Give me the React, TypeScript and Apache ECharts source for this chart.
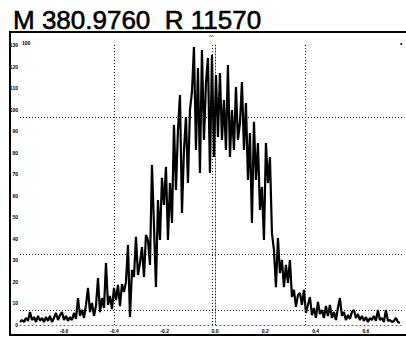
import React, { useEffect, useRef } from "react";
import * as echarts from "echarts";

const TITLE = "M 380.9760  R 11570";

// m/z offset of first sample and sampling step
const MZ_START = -0.7753;
const MZ_STEP = 0.00795;

// intensity
const INTENSITY = [
  1.4, 2.3, 1.4, 3.3, 1.9, 6.0, 2.3, 3.7, 1.4, 4.2,
  1.9, 3.3, 1.4, 3.7, 1.9, 4.2, 1.4, 3.3, 5.6, 2.3,
  4.6, 6.0, 2.3, 4.2, 1.9, 3.7, 2.3, 5.6, 2.8, 12.5,
  4.2, 7.0, 3.3, 9.3, 17.2, 6.0, 10.2, 4.2, 8.8, 21.8,
  6.0, 12.5, 7.9, 28.8, 9.3, 13.5, 7.4, 17.2, 11.6, 18.6,
  8.8, 19.0, 15.3, 20.0, 37.1, 3.7, 25.5, 22.3, 40.9, 23.2,
  28.8, 36.2, 22.3, 41.8, 39.5, 27.9, 74.3, 46.4, 17.6, 58.0,
  39.5, 68.3, 55.7, 73.4, 39.5, 65.9, 47.4, 92.9, 62.7, 90.5,
  106.8, 52.0, 81.3, 96.6, 65.9, 99.8, 108.2, 129.1, 81.3, 119.3,
  70.6, 127.7, 85.9, 112.4, 124.0, 70.6, 125.4, 78.0, 116.1, 87.3,
  117.0, 85.9, 104.5, 81.3, 120.7, 78.0, 99.8, 81.3, 110.5, 85.9,
  93.8, 112.8, 81.3, 103.1, 67.3, 89.1, 47.4, 94.3, 67.3, 84.5,
  53.4, 64.1, 39.5, 84.5, 65.9, 78.0, 42.7, 34.8, 17.6, 40.4,
  24.1, 30.2, 17.6, 27.9, 19.5, 30.2, 13.0, 16.3, 8.4, 13.9,
  14.9, 9.3, 16.3, 5.6, 9.3, 13.0, 4.6, 7.9, 3.3, 10.7,
  5.1, 7.0, 3.3, 8.8, 4.2, 9.3, 3.3, 6.0, 2.3, 7.9,
  12.5, 4.2, 6.0, 2.3, 4.6, 2.8, 6.0, 7.0, 3.3, 5.1,
  2.3, 4.2, 1.9, 3.7, 1.4, 3.3, 2.3, 4.2, 1.9, 7.0,
  2.3, 3.3, 1.4, 7.0, 1.9, 2.3, 1.4, 1.9, 3.3, 1.4,
  0.9,
];

const X_TICKS = [-0.6, -0.4, -0.2, 0, 0.2, 0.4, 0.6];
const X_TICK_LABELS = ["-0.6", "-0.4", "-0.2", "0.0", "0.2", "0.4", "0.6"];
const H_LEVELS = [96.6, 33, 7];
const V_LEVELS = [-0.398, -0.012, 0.362];

export default function App() {
  const ref = useRef<HTMLDivElement>(null);
  useEffect(() => {
    if (!ref.current) return;
    const chart = echarts.init(ref.current, undefined, { renderer: "svg" });
    const data = INTENSITY.map((v, i) => [MZ_START + i * MZ_STEP, v]);
    const dotted = { color: "#222", width: 1, type: [1, 2] as any };
    chart.setOption({
      animation: false,
      backgroundColor: "#fff",
      title: {
        text: TITLE,
        left: 8,
        top: 2,
        textStyle: {
          fontFamily: "Liberation Sans, Arial, sans-serif",
          fontSize: 26,
          fontWeight: "normal",
          color: "#000",
          textBorderColor: "#000",
          textBorderWidth: 0.6,
        },
      },
      grid: { left: 20, right: 3, top: 45, bottom: 13, containLabel: false },
      xAxis: {
        type: "value",
        min: MZ_START,
        max: 0.7475,
        axisLine: { show: true, lineStyle: { color: "#666", width: 1, type: [1, 3] } },
        axisTick: { show: false },
        splitLine: { show: false },
        axisLabel: {
          customValues: X_TICKS,
          formatter: (v: number) => {
            const idx = X_TICKS.findIndex((t) => Math.abs(t - v) < 1e-6);
            return idx >= 0 ? X_TICK_LABELS[idx] : "";
          },
          fontSize: 5,
          fontWeight: "bold",
          color: "#000",
          margin: 3,
        },
      },
      yAxis: {
        type: "value",
        min: 0,
        max: 130,
        interval: 10,
        axisLine: { show: true, lineStyle: { color: "#333", width: 1, type: [1, 2] } },
        axisTick: { show: false },
        splitLine: { show: false },
        axisLabel: {
          fontSize: 5,
          fontWeight: "bold",
          color: "#000",
          margin: 2,
        },
      },
      graphic: [
        { type: "line", shape: { x1: 10, y1: 32, x2: 406, y2: 32 }, style: { stroke: "#000", lineWidth: 2 } },
        { type: "line", shape: { x1: 10, y1: 31, x2: 10, y2: 336 }, style: { stroke: "#000", lineWidth: 2 } },
        { type: "line", shape: { x1: 10, y1: 335, x2: 406, y2: 335 }, style: { stroke: "#000", lineWidth: 2 } },
        { type: "text", x: 22, y: 40, style: { text: "100", fontSize: 5, fontWeight: "bold", fill: "#000" } },
        { type: "text", x: 209, y: 34, style: { text: "^^", fontSize: 5, fill: "#000" } },
        { type: "text", x: 400, y: 40, style: { text: "•", fontSize: 7, fill: "#000" } },
      ],
      series: [
        {
          type: "line",
          data,
          symbol: "none",
          lineStyle: { color: "#000", width: 2.2 },
          silent: true,
          markLine: {
            silent: true,
            symbol: "none",
            label: { show: false },
            lineStyle: dotted,
            data: [
              ...H_LEVELS.map((v) => ({ yAxis: v })),
              ...V_LEVELS.map((v) => ({ xAxis: v })),
            ],
          },
        },
      ],
    });
    return () => chart.dispose();
  }, []);
  return (
    <div
      ref={ref}
      style={{ position: "fixed", left: 0, top: 0, width: 406, height: 338 }}
    />
  );
}
